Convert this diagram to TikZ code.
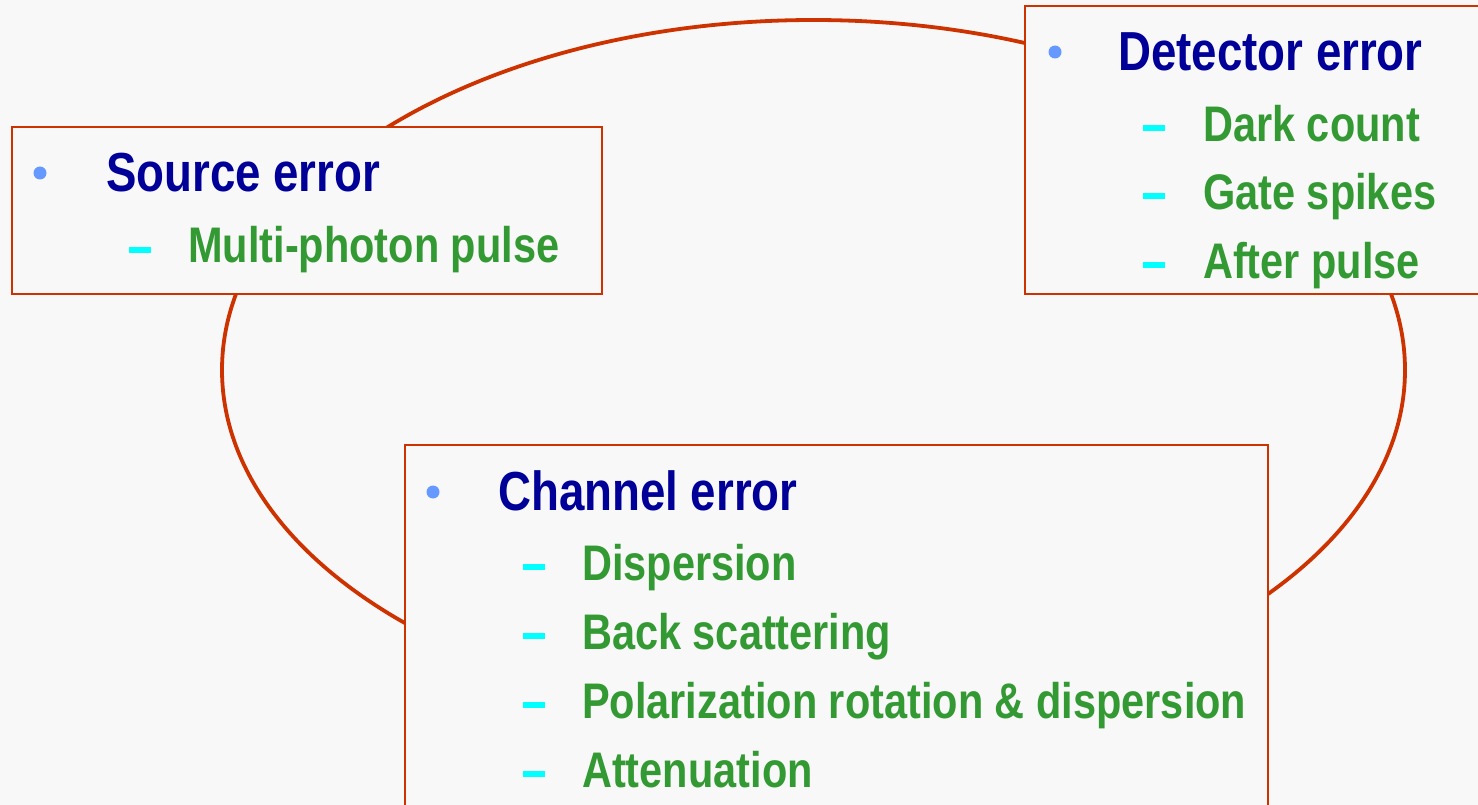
\documentclass[tikz,border=0pt]{standalone}
\usepackage{fontspec}
\newfontfamily\cond[FakeStretch=0.83]{Liberation Sans}
\definecolor{bg}{HTML}{F8F8F8}
\definecolor{bord}{HTML}{CC3300}
\definecolor{navy}{HTML}{000099}
\definecolor{grn}{HTML}{339933}
\definecolor{bulc}{HTML}{6699FF}
\definecolor{cyn}{HTML}{00FFFF}
\begin{document}
\begin{tikzpicture}[x=1pt,y=-1pt,
  box/.style={draw=bord, line width=2.5pt, fill=bg, rectangle, inner sep=0pt},
  ttl/.style={anchor=base west, inner sep=0pt, text=navy, font=\cond\bfseries\fontsize{55}{62}\selectfont},
  itm/.style={anchor=base west, inner sep=0pt, text=grn, font=\cond\bfseries\fontsize{50}{58}\selectfont},
  bullet/.style={circle, fill=bulc, inner sep=0pt, minimum size=13pt},
  dashbar/.style={rectangle, fill=cyn, inner sep=0pt, minimum width=22pt, minimum height=5.5pt}]
\useasboundingbox (0,0) rectangle (1478,805);
\clip (0,0) rectangle (1478,805);
\fill[bg] (0,0) rectangle (1478,805);
% ring
\draw[bord, line width=3.8pt] (813.5,370) ellipse [x radius=591.5pt, y radius=350pt];
% boxes
\node[box, minimum width=590pt, minimum height=167pt] (src) at (307,210.5) {};
\node[box, minimum width=475pt, minimum height=288pt] (det) at (1262.5,150) {};
\node[box, minimum width=863pt, minimum height=385pt] (chn) at (836.5,637.5) {};
% source
\node[bullet] (srcb) at (40,173) {};
\node[ttl] (srct) at (106,192) {Source error};
\node[dashbar] (srcd1) at (140,250) {};
\node[itm] (srci1) at (188,262) {Multi-photon pulse};
% detector
\node[bullet] (detb) at (1055,52) {};
\node[ttl] (dett) at (1118,71) {Detector error};
\node[dashbar] (detd1) at (1154,128) {};
\node[itm] (deti1) at (1203,142) {Dark count};
\node[dashbar] (detd2) at (1154,196) {};
\node[itm] (deti2) at (1203,210) {Gate spikes};
\node[dashbar] (detd3) at (1154,265) {};
\node[itm] (deti3) at (1203,278) {After pulse};
% channel
\node[bullet] (chnb) at (433,492) {};
\node[ttl] (chnt) at (498,510) {Channel error};
\node[dashbar] (chnd1) at (534,567) {};
\node[itm] (chni1) at (582,580) {Dispersion};
\node[dashbar] (chnd2) at (534,636) {};
\node[itm] (chni2) at (582,649) {Back scattering};
\node[dashbar] (chnd3) at (534,705) {};
\node[itm] (chni3) at (582,718) {Polarization rotation \& dispersion};
\node[dashbar] (chnd4) at (534,774) {};
\node[itm] (chni4) at (582,787) {Attenuation};
\end{tikzpicture}
\end{document}
